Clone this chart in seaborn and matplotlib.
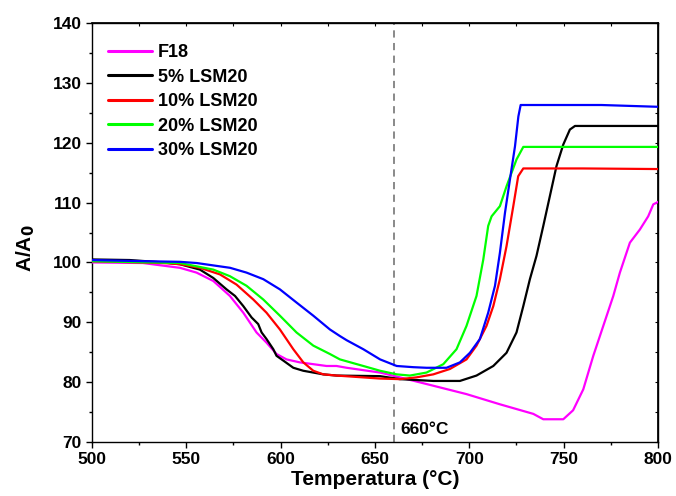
import numpy as np
import pandas as pd
import matplotlib
matplotlib.use("Agg")
import matplotlib.pyplot as plt
from matplotlib.ticker import MultipleLocator
import seaborn as sns

# Normalised area A/A0 (%) versus temperature for each sample
f18_t = [500, 527, 546.6, 555.4, 564.3, 573.1, 580.2, 587.2, 592.5, 597.8, 603.1, 610.2,
         617.3, 624.3, 629.6, 635, 652.7, 663.2, 680.9, 698.5, 716.2, 733.9, 739.2,
         749.8, 755, 760.4, 765.7, 771, 776.3, 779.8, 785.1, 790.4, 794.8, 797.5, 800]
f18_v = [100.0, 99.9, 99.1, 98.3, 96.9, 94.4, 91.6, 88.3, 86.6, 84.7, 83.8, 83.3,
         83.0, 82.7, 82.7, 82.4, 81.6, 80.8, 79.4, 78.0, 76.3, 74.7, 73.8,
         73.8, 75.3, 78.8, 84.4, 89.4, 94.4, 98.3, 103.3, 105.5, 107.7, 109.7, 110.1]

lsm5_t = [500, 520, 537.8, 546.6, 557.2, 564.3, 571.3, 575.8, 580.2, 584.6, 588.1, 589.9,
          592.5, 596.1, 597.8, 601.4, 606.7, 612, 617.3, 622.6, 629.6, 652.7, 663.2,
          680.9, 695, 703.8, 712.7, 719.7, 725, 728.6, 732.1, 735.6, 739.2, 742.7,
          746.2, 749.8, 753.3, 756, 780, 800]
lsm5_v = [100.5, 100.4, 100.0, 99.7, 98.8, 97.4, 95.5, 94.4, 92.7, 90.8, 89.7, 88.3,
          87.2, 85.5, 84.4, 83.6, 82.4, 81.9, 81.6, 81.3, 81.1, 81.0, 80.5,
          80.2, 80.2, 81.1, 82.7, 84.9, 88.3, 92.7, 97.2, 101.1, 106.1, 111.1,
          116.1, 119.7, 122.2, 122.8, 122.8, 122.8]

lsm10_t = [500, 537.8, 546.6, 557.2, 567.8, 576.6, 585.5, 592.5, 599.6, 606.7, 612, 617.3,
           622.6, 629.6, 652.7, 663.2, 672, 680.9, 689.7, 698.5, 703.8, 709.1, 712.7,
           716.2, 719.7, 723.3, 725.9, 728.6, 760, 800]
lsm10_v = [100.2, 99.9, 99.7, 99.1, 98.0, 96.3, 93.8, 91.6, 88.8, 85.5, 83.3, 81.9,
           81.3, 81.1, 80.6, 80.5, 80.8, 81.3, 82.2, 83.8, 86.1, 89.4, 92.7,
           97.2, 102.7, 109.4, 114.4, 115.7, 115.7, 115.6]

lsm20_t = [500, 546.6, 564.3, 573.1, 581.9, 590.8, 599.6, 608.4, 617.3, 626.1, 631.4,
           643.8, 652.7, 661.5, 668.5, 677.3, 686.2, 693.2, 698.5, 703.8, 707.4, 710,
           711.8, 716.2, 719.7, 725, 728.6, 760, 800]
lsm20_v = [100.2, 99.9, 98.8, 97.7, 96.1, 93.8, 91.1, 88.3, 86.1, 84.7, 83.8,
           82.7, 81.9, 81.3, 81.1, 81.6, 83.0, 85.5, 89.4, 94.4, 100.5, 106.1,
           107.7, 109.4, 112.7, 117.2, 119.3, 119.3, 119.3]

lsm30_t = [500, 529, 546.6, 555.5, 564.3, 573.2, 581.9, 590.8, 599.6, 608.4, 617.3, 626.1,
           631.4, 635, 643.8, 652.7, 661.5, 670.3, 677.3, 687.9, 695, 700.3, 705.6, 710,
           713.6, 716.2, 718.9, 721.5, 724.2, 726, 727.2, 770, 790, 800]
lsm30_v = [100.4, 100.2, 100.1, 99.9, 99.5, 99.1, 98.3, 97.2, 95.5, 93.3, 91.1, 88.8,
           87.7, 87.0, 85.5, 83.8, 82.7, 82.5, 82.4, 82.4, 83.3, 84.9, 87.2, 91.6,
           96.1, 101.6, 108.3, 113.8, 119.4, 124.4, 126.3, 126.3, 126.1, 126.0]

labels = ["F18", "5% LSM20", "10% LSM20", "20% LSM20", "30% LSM20"]
colors = ["#FF00FF", "#000000", "#FF0000", "#00FF00", "#0000FF"]
series_t = [f18_t, lsm5_t, lsm10_t, lsm20_t, lsm30_t]
series_v = [f18_v, lsm5_v, lsm10_v, lsm20_v, lsm30_v]

df = pd.concat(
    [pd.DataFrame({"T": t, "A": v, "sample": lab})
     for t, v, lab in zip(series_t, series_v, labels)],
    ignore_index=True,
)

sns.set_theme(style="ticks")
plt.rcParams["font.family"] = ["Liberation Sans", "DejaVu Sans"]
plt.rcParams["font.weight"] = "bold"
plt.rcParams["axes.labelweight"] = "bold"
plt.rcParams["text.color"] = "black"
plt.rcParams["axes.labelcolor"] = "black"
plt.rcParams["xtick.color"] = "black"
plt.rcParams["ytick.color"] = "black"
plt.rcParams["axes.edgecolor"] = "black"

fig = plt.figure(figsize=(6.76, 4.96), dpi=100)
ax = fig.add_axes([92 / 676, 1 - 442 / 496, 566 / 676, 419 / 496])

# Reference temperature marker
ax.axvline(660, color="#808080", lw=1.3, ls=(0, (4, 3)), zorder=1)
ax.text(663.5, 71.3, "660°C", fontsize=12.5, fontweight="bold", ha="left",
        va="baseline", color="black")

sns.lineplot(data=df, x="T", y="A", hue="sample", hue_order=labels,
             palette=dict(zip(labels, colors)), linewidth=1.6, sort=False,
             estimator=None, ax=ax, zorder=3)

ax.set_xlim(500, 800)
ax.set_ylim(70, 140)
ax.xaxis.set_major_locator(MultipleLocator(50))
ax.xaxis.set_minor_locator(MultipleLocator(25))
ax.yaxis.set_major_locator(MultipleLocator(10))
ax.yaxis.set_minor_locator(MultipleLocator(5))
ax.tick_params(which="major", direction="out", length=4, width=1, labelsize=12.5,
               colors="black", pad=3.5)
ax.tick_params(which="minor", direction="out", length=2.5, width=1, colors="black")
for lab in ax.get_xticklabels() + ax.get_yticklabels():
    lab.set_fontweight("bold")

for side in ["left", "bottom", "top", "right"]:
    ax.spines[side].set_visible(True)
    ax.spines[side].set_linewidth(1.0)
    ax.spines[side].set_color("black")

# Short inward ticks on the top and right frame
top = ax.secondary_xaxis("top")
top.xaxis.set_major_locator(MultipleLocator(50))
top.xaxis.set_minor_locator(MultipleLocator(25))
top.tick_params(which="both", direction="in", length=2, width=0.8, labeltop=False)
right = ax.secondary_yaxis("right")
right.yaxis.set_major_locator(MultipleLocator(10))
right.yaxis.set_minor_locator(MultipleLocator(5))
right.tick_params(which="both", direction="in", length=2, width=0.8, labelright=False)

ax.set_xlabel("Temperatura (°C)", fontsize=15, fontweight="bold", labelpad=2,
              color="black")
ax.set_ylabel("A/A$_\\mathbf{0}$", fontsize=15, fontweight="bold", color="black")
ax.yaxis.label.set_va("center")
ax.yaxis.set_label_coords(-0.117, 0.463)

handles, _ = ax.get_legend_handles_labels()
leg = ax.legend(handles, labels, loc="upper left", bbox_to_anchor=(0.028, 0.95),
                frameon=False, borderaxespad=0, borderpad=0, handlelength=2.45,
                handletextpad=0.3, labelspacing=0.42, prop={"size": 13, "weight": "bold"})
for line in leg.get_lines():
    line.set_linewidth(2.2)
for txt in leg.get_texts():
    txt.set_color("black")

fig.savefig("out.png", dpi=100)
